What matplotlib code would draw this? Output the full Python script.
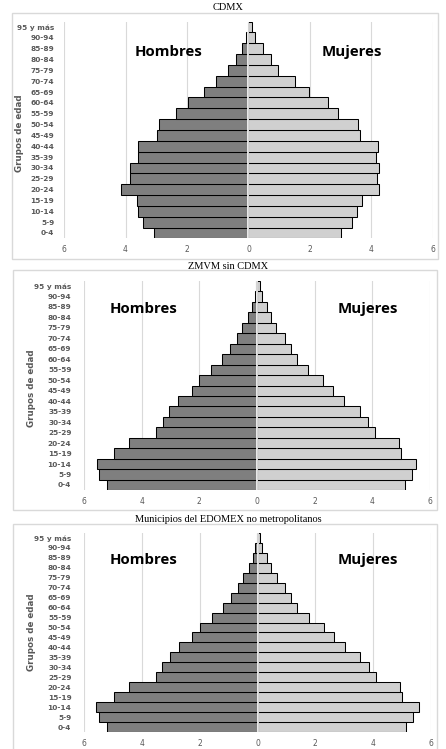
import numpy as np
import matplotlib.pyplot as plt
from matplotlib.patches import Rectangle

# grupos de edad (de 0-4 hasta 95 y más)
grupos = ['0-4', '5-9', '10-14', '15-19', '20-24', '25-29', '30-34', '35-39',
          '40-44', '45-49', '50-54', '55-59', '60-64', '65-69', '70-74',
          '75-79', '80-84', '85-89', '90-94', '95 y más']

# porcentajes por sexo
cdmx_hombres = [3.08, 3.44, 3.58, 3.64, 4.16, 3.86, 3.86, 3.58, 3.58, 2.98,
                2.92, 2.36, 1.97, 1.45, 1.06, 0.67, 0.41, 0.20, 0.07, 0.02]
cdmx_mujeres = [3.00, 3.35, 3.52, 3.70, 4.25, 4.18, 4.25, 4.14, 4.22, 3.62,
                3.57, 2.92, 2.58, 1.97, 1.51, 0.95, 0.73, 0.48, 0.22, 0.12]

zmvm_hombres = [5.20, 5.47, 5.54, 4.95, 4.43, 3.50, 3.25, 3.04, 2.73, 2.25,
                2.00, 1.59, 1.20, 0.93, 0.68, 0.51, 0.31, 0.17, 0.07, 0.02]
zmvm_mujeres = [5.12, 5.36, 5.53, 5.01, 4.92, 4.09, 3.84, 3.56, 3.03, 2.63,
                2.30, 1.78, 1.37, 1.17, 0.96, 0.67, 0.47, 0.34, 0.16, 0.09]

edomex_hombres = [5.20, 5.47, 5.57, 4.95, 4.43, 3.50, 3.29, 3.04, 2.73, 2.25,
                  2.00, 1.59, 1.20, 0.93, 0.68, 0.51, 0.31, 0.17, 0.07, 0.02]
edomex_mujeres = [5.12, 5.39, 5.57, 5.01, 4.92, 4.09, 3.87, 3.56, 3.03, 2.63,
                  2.30, 1.78, 1.37, 1.17, 0.96, 0.67, 0.47, 0.34, 0.16, 0.09]

titulos = ['CDMX', 'ZMVM sin CDMX', 'Municipios del EDOMEX no metropolitanos']
hombres = [cdmx_hombres, zmvm_hombres, edomex_hombres]
mujeres = [cdmx_mujeres, zmvm_mujeres, edomex_mujeres]

W, H = 446, 749
fig = plt.figure(figsize=(W / 100, H / 100), dpi=100)
fig.patch.set_facecolor('white')

def fx(px):
    return px / W

def fy(py):
    return 1 - py / H

# layout en pixeles: (x-6, x6, y tope, y base, caja, titulo, etiquetas)
paneles = [
    dict(x0=64, x1=433, top=21.6, bot=238.4, box=(12, 13, 438, 259), title_y=7,
         lab_x=57, ylab=(20, 133), hom=(169, 52), muj=(352, 52)),
    dict(x0=84, x1=430, top=280.8, bot=490.2, box=(13, 270, 437, 510), title_y=266,
         lab_x=75, ylab=(32, 388), hom=(144, 309), muj=(368, 309)),
    dict(x0=84, x1=431, top=533, bot=732, box=(13, 524, 437, 760), title_y=520,
         lab_x=75, ylab=(32, 632), hom=(144, 560), muj=(368, 560)),
]

gris_txt = '#595959'
y = np.arange(len(grupos))

for i, p in enumerate(paneles):
    bx0, by0, bx1, by1 = p['box']
    fig.patches.append(Rectangle((fx(bx0), fy(by1)), fx(bx1 - bx0), (by1 - by0) / H,
                                 transform=fig.transFigure, fill=False,
                                 edgecolor='#d9d9d9', linewidth=1.0))

    ax = fig.add_axes([fx(p['x0']), fy(p['bot']), fx(p['x1'] - p['x0']),
                       (p['bot'] - p['top']) / H])
    ax.barh(y, -np.array(hombres[i]), height=1.0, color='#7f7f7f',
            edgecolor='black', linewidth=0.75, zorder=2)
    ax.barh(y, mujeres[i], height=1.0, color='#d0d0d0',
            edgecolor='black', linewidth=0.75, zorder=2)
    ax.axvline(0, color='white', linewidth=1.2, zorder=3)

    ax.set_xlim(-6, 6)
    ax.set_ylim(-0.5, len(grupos) - 0.5)
    ax.set_xticks([-6, -4, -2, 0, 2, 4, 6])
    ax.set_xticklabels(['6', '4', '2', '0', '2', '4', '6'])
    ax.set_yticks(y)
    ax.set_yticklabels(grupos)
    ax.grid(axis='x', color='#d9d9d9', linewidth=0.8, zorder=0)
    ax.set_axisbelow(True)
    for s in ax.spines.values():
        s.set_visible(False)
    ax.tick_params(axis='x', length=0, pad=5, labelsize=5.5, labelcolor=gris_txt)
    ax.tick_params(axis='y', length=0, pad=p['x0'] - p['lab_x'], labelsize=5.3,
                   labelcolor=gris_txt)
    for t in ax.get_yticklabels():
        t.set_fontweight('bold')

    fig.text(fx(228), fy(p['title_y']), titulos[i], ha='center', va='center',
             family='Liberation Serif', fontsize=7.5, color='black')
    fig.text(fx(p['ylab'][0]), fy(p['ylab'][1]), 'Grupos de edad', rotation=90,
             ha='center', va='center', fontsize=6.3, fontweight='bold', color=gris_txt)
    fig.text(fx(p['hom'][0]), fy(p['hom'][1]), 'Hombres', ha='center', va='center',
             family='Open Sans', fontsize=10.8, fontweight='bold', color='black')
    fig.text(fx(p['muj'][0]), fy(p['muj'][1]), 'Mujeres', ha='center', va='center',
             family='Open Sans', fontsize=10.8, fontweight='bold', color='black')

fig.savefig('out.png', dpi=100, facecolor='white')
